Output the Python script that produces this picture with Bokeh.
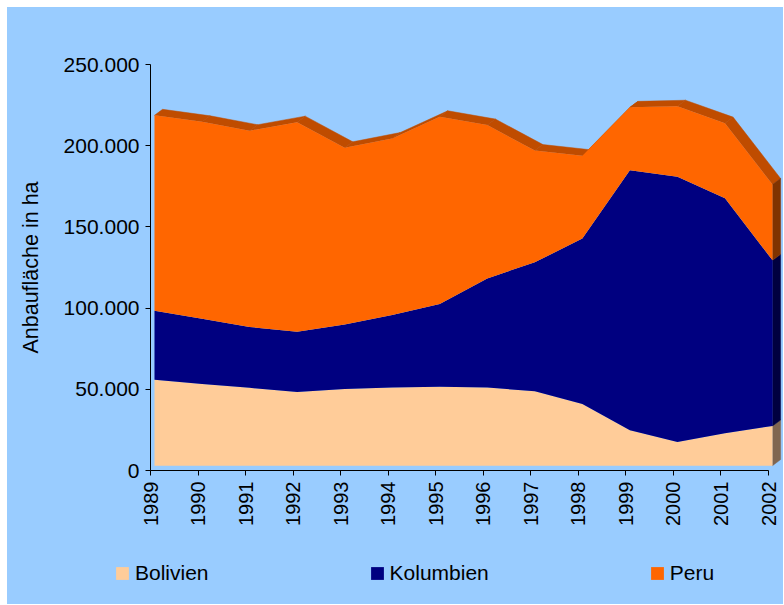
import numpy as np
from bokeh.plotting import figure
from bokeh.layouts import column
from bokeh.models import (FixedTicker, CustomJSTickFormatter, Legend, LegendItem, Range1d)
from bokeh.embed import file_html
from bokeh.resources import INLINE

# ---- data ----
years = [1989, 1990, 1991, 1992, 1993, 1994, 1995, 1996, 1997, 1998, 1999, 2000, 2001, 2002]
year_labels = [str(y) for y in years]
bolivien = [52900, 50300, 47900, 45300, 47200, 48100, 48600, 48100, 45800, 38000, 21800, 14600, 19900, 24400]
kolumbien = [42400, 40100, 37500, 37100, 39700, 44700, 50900, 67200, 79400, 101800, 160100, 163300, 144800, 102000]
peru = [120400, 121300, 120800, 129100, 108800, 108600, 115300, 94400, 68800, 51000, 38700, 43400, 46200, 46700]
series_names = ["Bolivien", "Kolumbien", "Peru"]
y_ticks = [0, 50000, 100000, 150000, 200000, 250000]

# ---- styles ----
COLORS = ["#FFCC99", "#000080", "#FF6600"]
SIDE_COLORS = ["#806650", "#000040", "#803300"]
TOP_COLOR = "#BF4C00"
BG = "#99CCFF"
FONT = "Liberation Sans"
FRONT_DX = 0.084   # 3D front-face shift (years)
FRONT_DY = 3000    # 3D front-face shift (ha)
DEPTH_DX = 0.17    # 3D depth (years)
DEPTH_DY = 3700    # 3D depth (ha)

x = np.array(years, dtype=float) + FRONT_DX
b0 = np.full(len(years), float(FRONT_DY))
b1 = b0 + np.array(bolivien)
b2 = b1 + np.array(kolumbien)
b3 = b2 + np.array(peru)
levels = [b0, b1, b2, b3]

p = figure(width=776, height=530,
           x_range=Range1d(1989, 2002.315), y_range=Range1d(0, 250000),
           output_backend="svg", toolbar_location=None,
           min_border_left=143, min_border_right=0, min_border_top=57, min_border_bottom=67,
           background_fill_color=BG, border_fill_color=BG, outline_line_color=None)
p.frame_align = False
p.styles = {"background-color": BG}
p.grid.visible = False

# top depth strip of the uppermost series
xs_top, ys_top = [], []
for i in range(len(years) - 1):
    xs_top.append([x[i], x[i + 1], x[i + 1] + DEPTH_DX, x[i] + DEPTH_DX])
    ys_top.append([b3[i], b3[i + 1], b3[i + 1] + DEPTH_DY, b3[i] + DEPTH_DY])
p.patches(xs_top, ys_top, fill_color=TOP_COLOR, line_color=TOP_COLOR, line_width=0.5)

# right side faces
xl = x[-1]
xs_side, ys_side = [], []
for k in range(3):
    lo, hi = levels[k][-1], levels[k + 1][-1]
    xs_side.append([xl, xl, xl + DEPTH_DX, xl + DEPTH_DX])
    ys_side.append([lo, hi, hi + DEPTH_DY, lo + DEPTH_DY])
p.patches(xs_side, ys_side, fill_color=SIDE_COLORS, line_color=SIDE_COLORS, line_width=0.5)

# front faces
for k in range(3):
    p.varea(x=x, y1=levels[k], y2=levels[k + 1], fill_color=COLORS[k])

# axes
p.xaxis.ticker = FixedTicker(ticks=years)
p.xaxis.major_label_overrides = {y: l for y, l in zip(years, year_labels)}
p.xaxis.major_label_orientation = np.pi / 2
p.xaxis.bounds = (years[0], years[-1])
p.yaxis.ticker = FixedTicker(ticks=y_ticks)
p.yaxis.formatter = CustomJSTickFormatter(
    code="return tick.toFixed(0).replace(/\\B(?=(\\d{3})+(?!\\d))/g, '.');")
p.yaxis.bounds = (0, 250000)
p.yaxis.axis_label = "Anbaufläche in ha"
for ax in (p.xaxis[0], p.yaxis[0]):
    ax.axis_line_color = "black"
    ax.major_tick_line_color = "black"
    ax.minor_tick_line_color = None
    ax.major_tick_in = 0
    ax.major_tick_out = 5
    ax.major_label_standoff = 6
    ax.major_label_text_font = FONT
    ax.major_label_text_color = "black"
p.xaxis.major_label_text_font_size = "20px"
p.yaxis.major_label_text_font_size = "21px"
p.yaxis.axis_label_text_font = FONT
p.yaxis.axis_label_text_font_size = "21.5px"
p.yaxis.axis_label_text_font_style = "normal"
p.yaxis.axis_label_text_color = "black"
p.yaxis.axis_label_standoff = 18

# legend strip (separate canvas below the plot, same background)
lf = figure(width=776, height=67, x_range=Range1d(0, 776), y_range=Range1d(0, 67),
            output_backend="svg", toolbar_location=None,
            x_axis_location=None, y_axis_location=None,
            min_border_left=0, min_border_right=0, min_border_top=0, min_border_bottom=0,
            background_fill_color=BG, border_fill_color=BG, outline_line_color=None)
lf.frame_align = False
lf.styles = {"background-color": BG}
lf.grid.visible = False
lf_items = []
for name, c in zip(series_names, COLORS):
    r = lf.varea(x=[-10], y1=[-10], y2=[-10], fill_color=c)
    lf_items.append(LegendItem(label=name, renderers=[r]))
legend = Legend(items=lf_items, orientation="horizontal", location=(107, 19), spacing=160,
                glyph_width=16, glyph_height=16, label_standoff=5, padding=0, margin=0,
                border_line_color=None, background_fill_alpha=0,
                label_text_font=FONT, label_text_font_size="21px", label_text_color="black")
lf.add_layout(legend)

layout = column(p, lf, spacing=0, margin=(7, 0, 0, 7), styles={"background-color": BG})
open("out.html", "w").write(file_html(layout, INLINE))
